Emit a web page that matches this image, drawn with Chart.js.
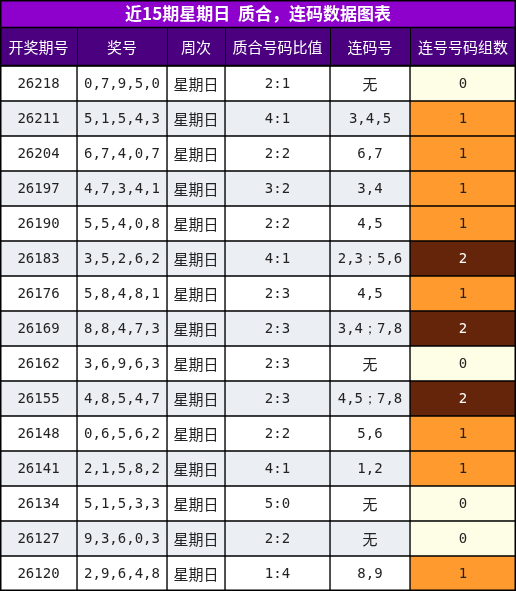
<!DOCTYPE html>
<html><head><meta charset="utf-8">
<script src="https://cdn.jsdelivr.net/npm/chart.js@4"></script>
<style>html,body{margin:0;padding:0;background:#fff}#w{width:516px;height:591px}</style>
</head><body><div id="w"><canvas id="c"></canvas></div>
<script>
const title = '近15期星期日  质合，连码数据图表';
const headers = ['开奖期号','奖号','周次','质合号码比值','连码号','连号号码组数'];
const issues = ['26218','26211','26204','26197','26190','26183','26176','26169','26162','26155','26148','26141','26134','26127','26120'];
const numbers = ['0,7,9,5,0','5,1,5,4,3','6,7,4,0,7','4,7,3,4,1','5,5,4,0,8','3,5,2,6,2','5,8,4,8,1','8,8,4,7,3','3,6,9,6,3','4,8,5,4,7','0,6,5,6,2','2,1,5,8,2','5,1,5,3,3','9,3,6,0,3','2,9,6,4,8'];
const weekday = issues.map(()=> '星期日');
const ratios = ['2:1','4:1','2:2','3:2','2:2','4:1','2:3','2:3','2:3','2:3','2:2','4:1','5:0','2:2','1:4'];
const consec = ['无','3,4,5','6,7','3,4','4,5','2,3；5,6','4,5','3,4；7,8','无','4,5；7,8','5,6','1,2','无','无','8,9'];
const groups = [0,1,1,1,1,2,1,2,0,2,1,1,0,0,1];
const colWidths = [77,90,58,105,80,106];

const columns = [issues, numbers, weekday, ratios, consec, groups];
const grpColor = g => g===0 ? '#fefee6' : g===1 ? '#ff9a2e' : '#65250a';
const datasets = colWidths.map((w,ci)=>({
  data: issues.map(()=>w),
  backgroundColor: ctx => ci===5 ? grpColor(groups[ctx.dataIndex]) : (ctx.dataIndex%2 ? '#ebeff3' : '#ffffff'),
  borderColor:'#000', borderWidth:1, borderSkipped:false,
  categoryPercentage:1, barPercentage:1
}));

const tablePlugin = {
  id:'table',
  afterDatasetsDraw(chart){
    const c = chart.ctx, area = chart.chartArea;
    c.save();
    // title
    c.fillStyle = '#8e00cc'; c.fillRect(0,0,516,28);
    c.fillStyle = '#4a007f'; c.fillRect(0,28,516,38);
    c.strokeStyle='#000'; c.lineWidth=1.5;
    c.strokeRect(0.75,0.75,514.5,589.5);
    c.beginPath(); c.moveTo(0,27.5); c.lineTo(516,27.5); c.moveTo(0,65.5); c.lineTo(516,65.5); c.stroke();
    c.fillStyle='#fff'; c.textAlign='center'; c.textBaseline='middle';
    c.font = 'bold 17px "Noto Sans CJK SC"';
    c.fillText(title, 258, 14);
    c.font = '15px "Noto Sans CJK SC"';
    const m0 = chart.getDatasetMeta(0).data[0];
    columns.forEach((col,ci)=>{
      const bars = chart.getDatasetMeta(ci).data;
      const x0 = bars[0].base, x1 = bars[0].x;
      if (ci>0){ c.beginPath(); c.moveTo(x0+0.5,28); c.lineTo(x0+0.5,66); c.lineWidth=1; c.stroke(); }
      c.fillStyle='#fff'; c.font = '15px "Noto Sans CJK SC"';
      c.fillText(headers[ci], (x0+x1)/2, 47);
      bars.forEach((b,ri)=>{
        const v = String(col[ri]);
        const cjk = /[\u4e00-\u9fff]/.test(v) && ci!==4;
        c.font = (ci===2 || v==='无') ? '15px "Noto Sans CJK SC"' : '14px "DejaVu Sans Mono"';
        c.fillStyle = (ci===5 && groups[ri]===2) ? '#fff' : '#222';
        c.fillText(v, (x0+x1)/2, b.y+1);
      });
    });
    c.restore();
  }
};

new Chart(document.getElementById('c'), {
  type:'bar',
  data:{labels:issues, datasets},
  options:{
    indexAxis:'y', responsive:true, maintainAspectRatio:false, animation:false,
    layout:{padding:{top:66,left:0,right:0,bottom:0}},
    plugins:{legend:{display:false}, tooltip:{enabled:false}},
    scales:{
      x:{stacked:true, display:false, min:0, max:516},
      y:{stacked:true, display:false}
    }
  },
  plugins:[tablePlugin]
});
</script></body></html>
